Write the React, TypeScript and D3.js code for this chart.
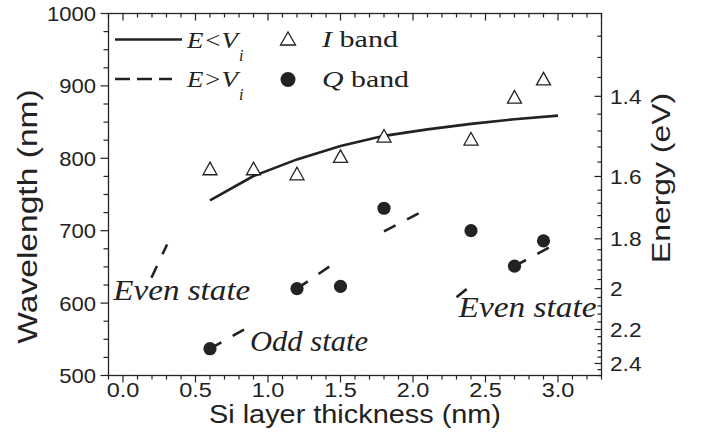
import React from 'react';
import * as d3 from 'd3';

// ---- data ----
const thicknessI = [0.6, 0.9, 1.2, 1.5, 1.8, 2.4, 2.7, 2.9];
const wavelengthI = [786, 786, 779, 803, 831, 827, 885, 910];
const thicknessQ = [0.6, 1.2, 1.5, 1.8, 2.4, 2.7, 2.9];
const wavelengthQ = [537, 620, 623, 731, 700, 651, 686];
const curveThickness = [0.6, 0.9, 1.2, 1.5, 1.8, 2.1, 2.4, 2.7, 3.0];
const curveWavelength = [742, 775.5, 798.5, 817, 831, 840, 847.5, 854, 859];
const dashStartThickness = [0.196, 0.6, 1.2, 1.8, 2.3, 2.7];
const dashStartWavelength = [635, 537, 620, 699, 608, 651];
const dashEndThickness = [0.304, 0.84, 1.435, 2.04, 2.38, 2.94];
const dashEndWavelength = [681, 564, 652, 724, 621, 677];
const xTicks = [0, 0.5, 1.0, 1.5, 2.0, 2.5, 3.0];
const xTickLabels = ['0.0', '0.5', '1.0', '1.5', '2.0', '2.5', '3.0'];
const yTicks = [500, 600, 700, 800, 900, 1000];
const yTickLabels = ['500', '600', '700', '800', '900', '1000'];
const energyTicks = [1.4, 1.6, 1.8, 2.0, 2.2, 2.4];
const energyTickLabels = ['1.4', '1.6', '1.8', '2', '2.2', '2.4'];

const HC = 1239.84;
const W = 702;
const H = 445;
const L = 108.5, R = 601.5, T = 13.5, B = 375.5;
const INK = '#222';
const SANS = '"Liberation Sans", Arial, sans-serif';
const SERIF = '"Liberation Serif", "Times New Roman", serif';

const x = d3.scaleLinear().domain([-0.1, 3.3]).range([L, R]);
const y = d3.scaleLinear().domain([500, 1000]).range([B, T]);

function range(a: number, b: number, step: number): number[] {
  const out: number[] = [];
  const n = Math.round((b - a) / step);
  for (let i = 0; i <= n; i++) out.push(+(a + i * step).toFixed(4));
  return out;
}

const xMinor = range(-0.1, 3.3, 0.1);
const yMinor = range(500, 1000, 25);
const eMinor = range(1.28, 2.48, 0.04);

function STxt(props: { x: number; y: number; sx?: number; rot?: number; anchor?: string; size: number; family?: string; style?: string; dy?: string; children: React.ReactNode }) {
  const { sx = 1, rot = 0, anchor = 'start', size, family = SANS, style = 'normal', dy } = props;
  return (
    <text
      transform={`translate(${props.x},${props.y}) rotate(${rot}) scale(${sx},1)`}
      textAnchor={anchor as any}
      fontSize={size}
      fontFamily={family}
      fontStyle={style}
      dy={dy}
      fill={INK}
    >
      {props.children}
    </text>
  );
}

function triPath(cx: number, cy: number, hw: number, hh: number) {
  return `M${cx},${cy - hh}L${cx + hw},${cy + hh}L${cx - hw},${cy + hh}Z`;
}

export default function App() {
  const curve = d3
    .line<number>()
    .x((_, i) => x(curveThickness[i]))
    .y((_, i) => y(curveWavelength[i]))(curveThickness) as string;

  const segLine = d3
    .line<[number, number]>()
    .x((d) => x(d[0]))
    .y((d) => y(d[1]));

  const segments = dashStartThickness.map((t, i) => [
    [t, dashStartWavelength[i]] as [number, number],
    [dashEndThickness[i], dashEndWavelength[i]] as [number, number],
  ]);

  return (
    <div style={{ position: 'fixed', left: 0, top: 0 }}>
      <svg width={W} height={H} style={{ display: 'block', background: '#fff' }}>
        {/* frame */}
        <rect x={L} y={T} width={R - L} height={B - T} fill="none" stroke={INK} strokeWidth={1.3} />

        {/* bottom & top ticks */}
        {xMinor.map((v, i) => {
          const major = xTicks.some((t) => Math.abs(t - v) < 1e-6);
          const len = major ? 7 : 4;
          return (
            <g key={'xt' + i}>
              <line x1={x(v)} x2={x(v)} y1={B} y2={B + len} stroke={INK} strokeWidth={1.2} />
              <line x1={x(v)} x2={x(v)} y1={T} y2={T + len} stroke={INK} strokeWidth={1.2} />
            </g>
          );
        })}
        {xTicks.map((v, i) => (
          <STxt key={'xl' + i} x={x(v)} y={397} size={21} sx={1.12} anchor="middle">
            {xTickLabels[i]}
          </STxt>
        ))}

        {/* left ticks */}
        {yMinor.map((v, i) => {
          const major = yTicks.includes(v);
          const len = major ? 8 : 5;
          return <line key={'yt' + i} x1={L - len} x2={L} y1={y(v)} y2={y(v)} stroke={INK} strokeWidth={1.2} />;
        })}
        {yTicks.map((v, i) => (
          <STxt key={'yl' + i} x={96} y={y(v)} dy="0.36em" size={21} sx={1.05} anchor="end">
            {yTickLabels[i]}
          </STxt>
        ))}

        {/* right energy ticks */}
        {eMinor.map((e, i) => {
          const major = energyTicks.some((t) => Math.abs(t - e) < 1e-6);
          const len = major ? 7 : 4;
          const yy = y(HC / e);
          return <line key={'et' + i} x1={R - len} x2={R} y1={yy} y2={yy} stroke={INK} strokeWidth={1.2} />;
        })}
        {energyTicks.map((e, i) => (
          <STxt key={'el' + i} x={610} y={y(HC / e)} dy="0.36em" size={21} sx={1.08}>
            {energyTickLabels[i]}
          </STxt>
        ))}

        {/* axis titles */}
        <STxt x={355} y={423} size={26.5} sx={1.09} anchor="middle">
          Si layer thickness (nm)
        </STxt>
        <STxt x={37} y={216.5} rot={-90} size={28} sx={1.2} anchor="middle">
          Wavelength (nm)
        </STxt>
        <STxt x={670} y={178} rot={-90} size={25.5} sx={1.25} anchor="middle">
          Energy (eV)
        </STxt>

        {/* solid curve */}
        <path d={curve} fill="none" stroke={INK} strokeWidth={2.6} />

        {/* dashed segments */}
        {segments.map((s, i) => (
          <path key={'ds' + i} d={segLine(s) as string} fill="none" stroke={INK} strokeWidth={2.6} strokeDasharray="13,13" />
        ))}

        {/* I band triangles */}
        {thicknessI.map((t, i) => (
          <path key={'ti' + i} d={triPath(x(t), y(wavelengthI[i]), 7, 6.3)} fill="#fff" stroke={INK} strokeWidth={1.3} />
        ))}

        {/* Q band circles */}
        {thicknessQ.map((t, i) => (
          <circle key={'cq' + i} cx={x(t)} cy={y(wavelengthQ[i])} r={6.6} fill={INK} />
        ))}

        {/* annotations */}
        <text x={x(-0.067)} y={y(604.3)} fontFamily={SERIF} fontStyle="italic" fontSize={30} fill={INK} textLength={137} lengthAdjust="spacingAndGlyphs">
          Even state
        </text>
        <text x={x(0.876)} y={y(533.5)} fontFamily={SERIF} fontStyle="italic" fontSize={30} fill={INK} textLength={118} lengthAdjust="spacingAndGlyphs">
          Odd state
        </text>
        <text x={x(2.314)} y={y(581)} fontFamily={SERIF} fontStyle="italic" fontSize={30} fill={INK} textLength={138} lengthAdjust="spacingAndGlyphs">
          Even state
        </text>

        {/* legend */}
        <line x1={115} x2={182} y1={39.5} y2={39.5} stroke={INK} strokeWidth={2.6} />
        <text x={187} y={48} fontFamily={SERIF} fontStyle="italic" fontSize={23} fill={INK} textLength={51} lengthAdjust="spacingAndGlyphs">
          E&lt;V
        </text>
        <text x={239} y={61} fontFamily={SERIF} fontStyle="italic" fontSize={16} fill={INK}>
          i
        </text>
        <path d={triPath(288, 38.5, 7.5, 6.5)} fill="#fff" stroke={INK} strokeWidth={1.3} />
        <text x={322} y={47} fontFamily={SERIF} fontSize={23} fill={INK} textLength={76} lengthAdjust="spacingAndGlyphs">
          <tspan fontStyle="italic">I</tspan> band
        </text>

        <line x1={115} x2={172} y1={79} y2={79} stroke={INK} strokeWidth={2.6} strokeDasharray="15,7" />
        <text x={187} y={87} fontFamily={SERIF} fontStyle="italic" fontSize={23} fill={INK} textLength={51} lengthAdjust="spacingAndGlyphs">
          E&gt;V
        </text>
        <text x={239} y={100} fontFamily={SERIF} fontStyle="italic" fontSize={16} fill={INK}>
          i
        </text>
        <circle cx={288} cy={79.5} r={7.5} fill={INK} />
        <text x={322} y={87} fontFamily={SERIF} fontSize={23} fill={INK} textLength={87} lengthAdjust="spacingAndGlyphs">
          <tspan fontStyle="italic">Q</tspan> band
        </text>
      </svg>
    </div>
  );
}
